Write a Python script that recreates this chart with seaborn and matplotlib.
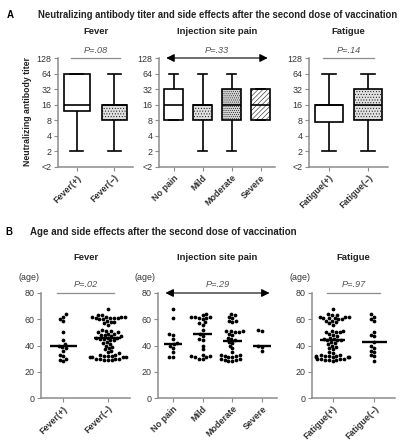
import numpy as np
import pandas as pd
import matplotlib
matplotlib.use("Agg")
import matplotlib.pyplot as plt
import matplotlib.transforms as mtransforms
import seaborn as sns

# ---- data ----
# panel A: titer summaries (min, q1, median, q3, max), log2 units, "<2" = 0
titer_ticks = [0, 1, 2, 3, 4, 5, 6, 7]
titer_labels = ["<2", "2", "4", "8", "16", "32", "64", "128"]

fever_groups = ["Fever(+)", "Fever(\u2212)"]
fever_titer = [[1, 3.6, 4, 6, 6], [1, 3, 4, 4, 6]]

pain_groups = ["No pain", "Mild", "Moderate", "Severe"]
pain_titer = [[3, 3, 4, 5, 6], [1, 3, 4, 4, 6], [1, 3, 4, 5, 6], [3, 3, 4, 5, 5]]

fatigue_groups = ["Fatigue(+)", "Fatigue(\u2212)"]
fatigue_titer = [[1, 2.87, 4, 4, 6], [1, 3, 4, 5, 6]]

p_titer = ["P=.08", "P=.33", "P=.14"]

# panel B: ages
age_fever_pos = [28, 29, 30, 32, 33, 36, 38, 39, 40, 41, 44, 50, 59, 60, 62, 64]
age_fever_neg = [68, 63, 63, 62, 62, 62, 62, 61, 61, 61, 61, 60, 60, 59, 58, 58, 57, 56,
                 52, 51, 51, 50, 50, 49, 49, 48, 48, 47, 47, 46, 46, 46, 45, 45, 44, 44,
                 43, 42, 41, 40, 39, 38, 37, 36,
                 35, 34, 33, 33, 32, 32, 32, 31, 31, 31, 31, 30, 30, 30, 30, 29, 29, 29]
age_nopain = [31, 31, 35, 38, 40, 41, 42, 45, 48, 49, 61, 68]
age_mild = [64, 63, 62, 62, 62, 61, 61, 60, 58, 57, 56, 52, 49, 47, 45, 44, 40, 37,
            33, 32, 32, 31, 31, 30, 30]
age_moderate = [64, 63, 62, 61, 59, 59, 58, 51, 51, 51, 50, 50, 49, 48, 46, 45, 44, 43,
                42, 40, 38, 35, 33, 33, 32, 32, 31, 31, 30, 30, 29, 29, 28, 28]
age_severe = [52, 51, 40, 39, 36]
age_fatigue_pos = [68, 64, 63, 63, 62, 62, 62, 61, 61, 61, 60, 60, 59, 59, 58, 57, 56,
                   51, 51, 50, 50, 50, 49, 48, 47, 46, 45, 45, 44, 44, 44, 43, 42, 41, 40,
                   39, 38, 37,
                   35, 34, 33, 33, 32, 32, 32, 32, 31, 31, 31, 31, 30, 30, 30, 30, 29, 29,
                   29, 28]
age_fatigue_neg = [64, 62, 60, 59, 50, 48, 47, 43, 40, 38, 36, 35, 33, 32, 28]

p_age = ["P=.02", "P=.29", "P=.97"]

# ---- style ----
FONT = ["Liberation Sans", "DejaVu Sans"]
plt.rcParams["font.family"] = FONT
plt.rcParams["hatch.linewidth"] = 0.35
W, H = 405, 440
AX_GRAY = "#8c8c8c"
TXT = "#333333"

fig = plt.figure(figsize=(W / 100, H / 100), dpi=100)


def make_ax(spine, ticks, end, top, bottom):
    ax = fig.add_axes([spine / W, 1 - bottom / H, (end - spine) / W, (bottom - top) / H])
    s = (ticks[-1] - ticks[0]) / (len(ticks) - 1)
    ax.set_xlim((spine - ticks[0]) / s, (end - ticks[0]) / s)
    return ax


def style_ax(ax, labels):
    sns.despine(ax=ax)
    for side in ["left", "bottom"]:
        ax.spines[side].set_color(AX_GRAY)
        ax.spines[side].set_linewidth(1.1)
    ax.tick_params(axis="both", colors=AX_GRAY, length=3, width=0.8, labelsize=6.4,
                   labelcolor=TXT, pad=1.5)
    ax.set_xticks(range(len(labels)))
    ax.set_xticklabels(labels, rotation=45, ha="right", rotation_mode="anchor",
                       fontsize=6.4, fontweight="bold", color=TXT)
    ax.set_xlabel("")
    ax.set_ylabel("")
    ax.patch.set_alpha(0)


def pval(ax, x0, x1, y, text, arrow, dy):
    if arrow:
        ax.annotate("", xy=(x1 + 0.25, y), xytext=(x0 - 0.25, y), xycoords="data",
                    arrowprops=dict(arrowstyle="<|-|>", color="black", lw=0.8,
                                    mutation_scale=12, shrinkA=0, shrinkB=0),
                    annotation_clip=False)
    else:
        ax.plot([x0 - 0.15, x1 + 0.15], [y, y], color=AX_GRAY, lw=0.9, clip_on=False)
    ax.text((x0 + x1) / 2, y + dy, text, ha="center", va="bottom", fontsize=6.6,
            style="italic", color="#555555", clip_on=False)


def titer_panel(ax, groups, vals, widths, fills):
    df = pd.DataFrame({"group": np.repeat(groups, 5), "titer": np.concatenate(vals)})
    sns.boxplot(data=df, x="group", y="titer", order=groups, ax=ax, whis=np.inf,
                color="white", linecolor="black", linewidth=1.2, width=widths,
                showfliers=False, fill=True)
    for patch, (fc, hatch) in zip(ax.patches, fills):
        patch.set_facecolor(fc)
        patch.set_edgecolor("black")
        if hatch:
            patch.set_hatch(hatch)
    ax.set_ylim(0, 7)
    ax.set_yticks(titer_ticks)
    ax.set_yticklabels(titer_labels)
    style_ax(ax, groups)


def age_panel(ax, data, groups, width):
    df = pd.concat([pd.DataFrame({"group": g, "age": a}) for g, a in zip(groups, data)])
    sns.swarmplot(data=df, x="group", y="age", order=groups, ax=ax, color="black",
                  size=2.7, linewidth=0)
    sns.boxplot(data=df, x="group", y="age", order=groups, ax=ax, showbox=False,
                showcaps=False, showfliers=False, whis=0, width=width,
                whiskerprops={"visible": False},
                medianprops={"color": "black", "linewidth": 1.7})
    ax.set_ylim(0, 80)
    ax.set_yticks([0, 20, 40, 60, 80])
    style_ax(ax, groups)
    ax.text(-0.02, 1.10, "(age)", transform=ax.transAxes, ha="right", va="bottom",
            fontsize=6.4, color=TXT)


# ---- panel A ----
TOP_A, BOT_A = 58, 167
axA1 = make_ax(58, [79, 107], 133, TOP_A, BOT_A)
axA2 = make_ax(159, [177, 204, 232, 259], 275, TOP_A, BOT_A)
axA3 = make_ax(309, [336, 367], 388, TOP_A, BOT_A)

dots = "#e0e0e0"
titer_panel(axA1, fever_groups, fever_titer, 0.68, [("white", None), (dots, "......")])
titer_panel(axA2, pain_groups, pain_titer, 0.63,
            [("white", None), (dots, "......"), ("#d4d4d4", "........"), ("white", "///////")])
titer_panel(axA3, fatigue_groups, fatigue_titer, 0.7, [("white", None), (dots, "......")])

pval(axA1, 0, 1, 7, p_titer[0], False, 0.2)
pval(axA2, 0, 3, 7, p_titer[1], True, 0.2)
pval(axA3, 0, 1, 7, p_titer[2], False, 0.2)

fig.text(28 / W, 1 - 112 / H, "Neutralizing antibody titer", rotation=90, ha="center",
         va="center", fontsize=6.3, fontweight="bold", color="#222222")

# ---- panel B ----
TOP_B, BOT_B = 293, 398
axB1 = make_ax(41, [70, 106], 130, TOP_B, BOT_B)
axB2 = make_ax(158, [180, 207, 235, 263], 277, TOP_B, BOT_B)
axB3 = make_ax(312, [339, 377], 395, TOP_B, BOT_B)

age_panel(axB1, [age_fever_pos, age_fever_neg], fever_groups, 0.6)
age_panel(axB2, [age_nopain, age_mild, age_moderate, age_severe], pain_groups, 0.63)
age_panel(axB3, [age_fatigue_pos, age_fatigue_neg], fatigue_groups, 0.6)

pval(axB1, 0, 1, 80, p_age[0], False, 3.0)
pval(axB2, 0, 3, 80, p_age[1], True, 3.0)
pval(axB3, 0, 1, 80, p_age[2], False, 3.0)

# ---- titles ----
for ax, t, y in [(axA1, "Fever", 32), (axA2, "Injection site pain", 32), (axA3, "Fatigue", 32),
                 (axB1, "Fever", 258), (axB2, "Injection site pain", 258), (axB3, "Fatigue", 258)]:
    n = len(ax.get_xticks())
    tr = mtransforms.blended_transform_factory(ax.transData, fig.transFigure)
    fig.text((n - 1) / 2, 1 - y / H, t, ha="center", va="center", fontsize=6.8,
             fontweight="bold", color="#222222", transform=tr)

fig.text(7 / W, 1 - 15 / H, "A", fontsize=7.0, fontweight="bold", va="center")
fig.text(38 / W, 1 - 15 / H, "Neutralizing antibody titer and side effects after the second dose of vaccination",
         fontsize=6.85, fontweight="bold", va="center", color="#222222")
fig.text(5 / W, 1 - 232 / H, "B", fontsize=7.0, fontweight="bold", va="center")
fig.text(30 / W, 1 - 232 / H, "Age and side effects after the second dose of vaccination",
         fontsize=7.0, fontweight="bold", va="center", color="#222222")

fig.savefig("out.png", dpi=100)
